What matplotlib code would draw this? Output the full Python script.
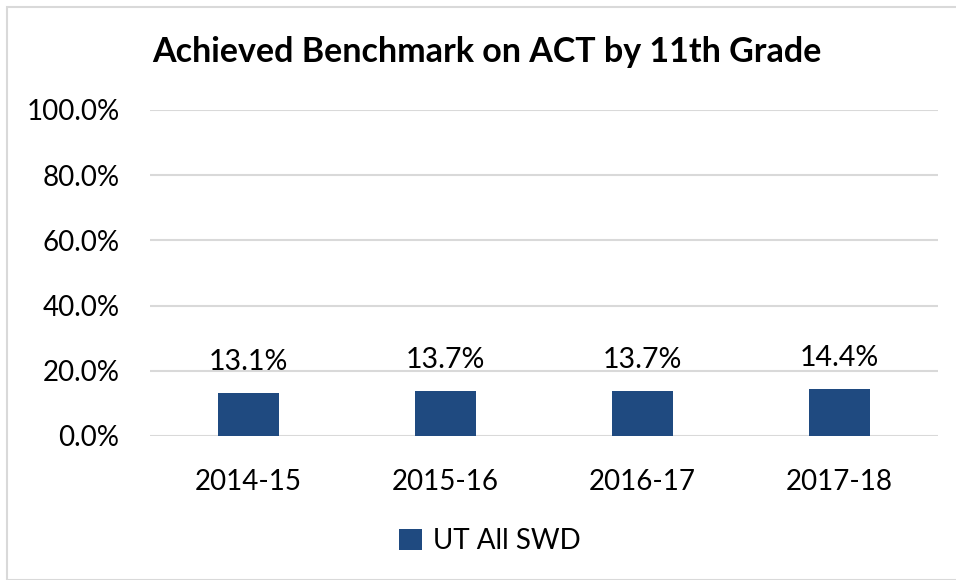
import matplotlib.pyplot as plt
from matplotlib.patches import Rectangle

plt.rcParams['font.family'] = ['Lato', 'DejaVu Sans']

years = ['2014-15', '2015-16', '2016-17', '2017-18']
values = [13.1, 13.7, 13.7, 14.4]
series_name = 'UT All SWD'
bar_color = '#1f4a80'

fig = plt.figure(figsize=(9.56, 5.8), dpi=100)
ax = fig.add_axes([150 / 956, 144 / 580, 788 / 956, 326 / 580])

x = range(len(years))
bars = ax.bar(x, values, width=0.31, color=bar_color, label=series_name, zorder=3)

for xi, v in zip(x, values):
    ax.text(xi, v + 5.5, f'{v:.1f}%', ha='center', va='bottom', fontsize=20.5)

ax.set_xlim(-0.5, len(years) - 0.5)
ax.set_ylim(0, 100)
ax.set_yticks(range(0, 101, 20))
ax.set_yticklabels([f'{t:.1f}%' for t in range(0, 101, 20)], fontsize=20)
ax.set_xticks(list(x))
ax.set_xticklabels(years, fontsize=20)
ax.tick_params(axis='y', length=0, pad=22)
ax.tick_params(axis='x', length=0, pad=24)
ax.grid(axis='y', color='#d9d9d9', linewidth=1.5, zorder=0)
for s in ax.spines.values():
    s.set_visible(False)

fig.text(487 / 956, 1 - 52 / 580, 'Achieved Benchmark on ACT by 11th Grade',
         ha='center', va='center', fontsize=24.5, fontweight='bold')

fig.legend(handles=[bars], labels=[series_name], loc='center',
           bbox_to_anchor=(490 / 956, 1 - 541 / 580), frameon=False,
           fontsize=20, handlelength=0.8, handleheight=0.8, handletextpad=0.4)

fig.patches.append(Rectangle((7 / 956, 0), 1, 1 - 7 / 580, transform=fig.transFigure,
                             fill=False, edgecolor='#d9d9d9', linewidth=1.5))

fig.savefig('out.png', dpi=100)
